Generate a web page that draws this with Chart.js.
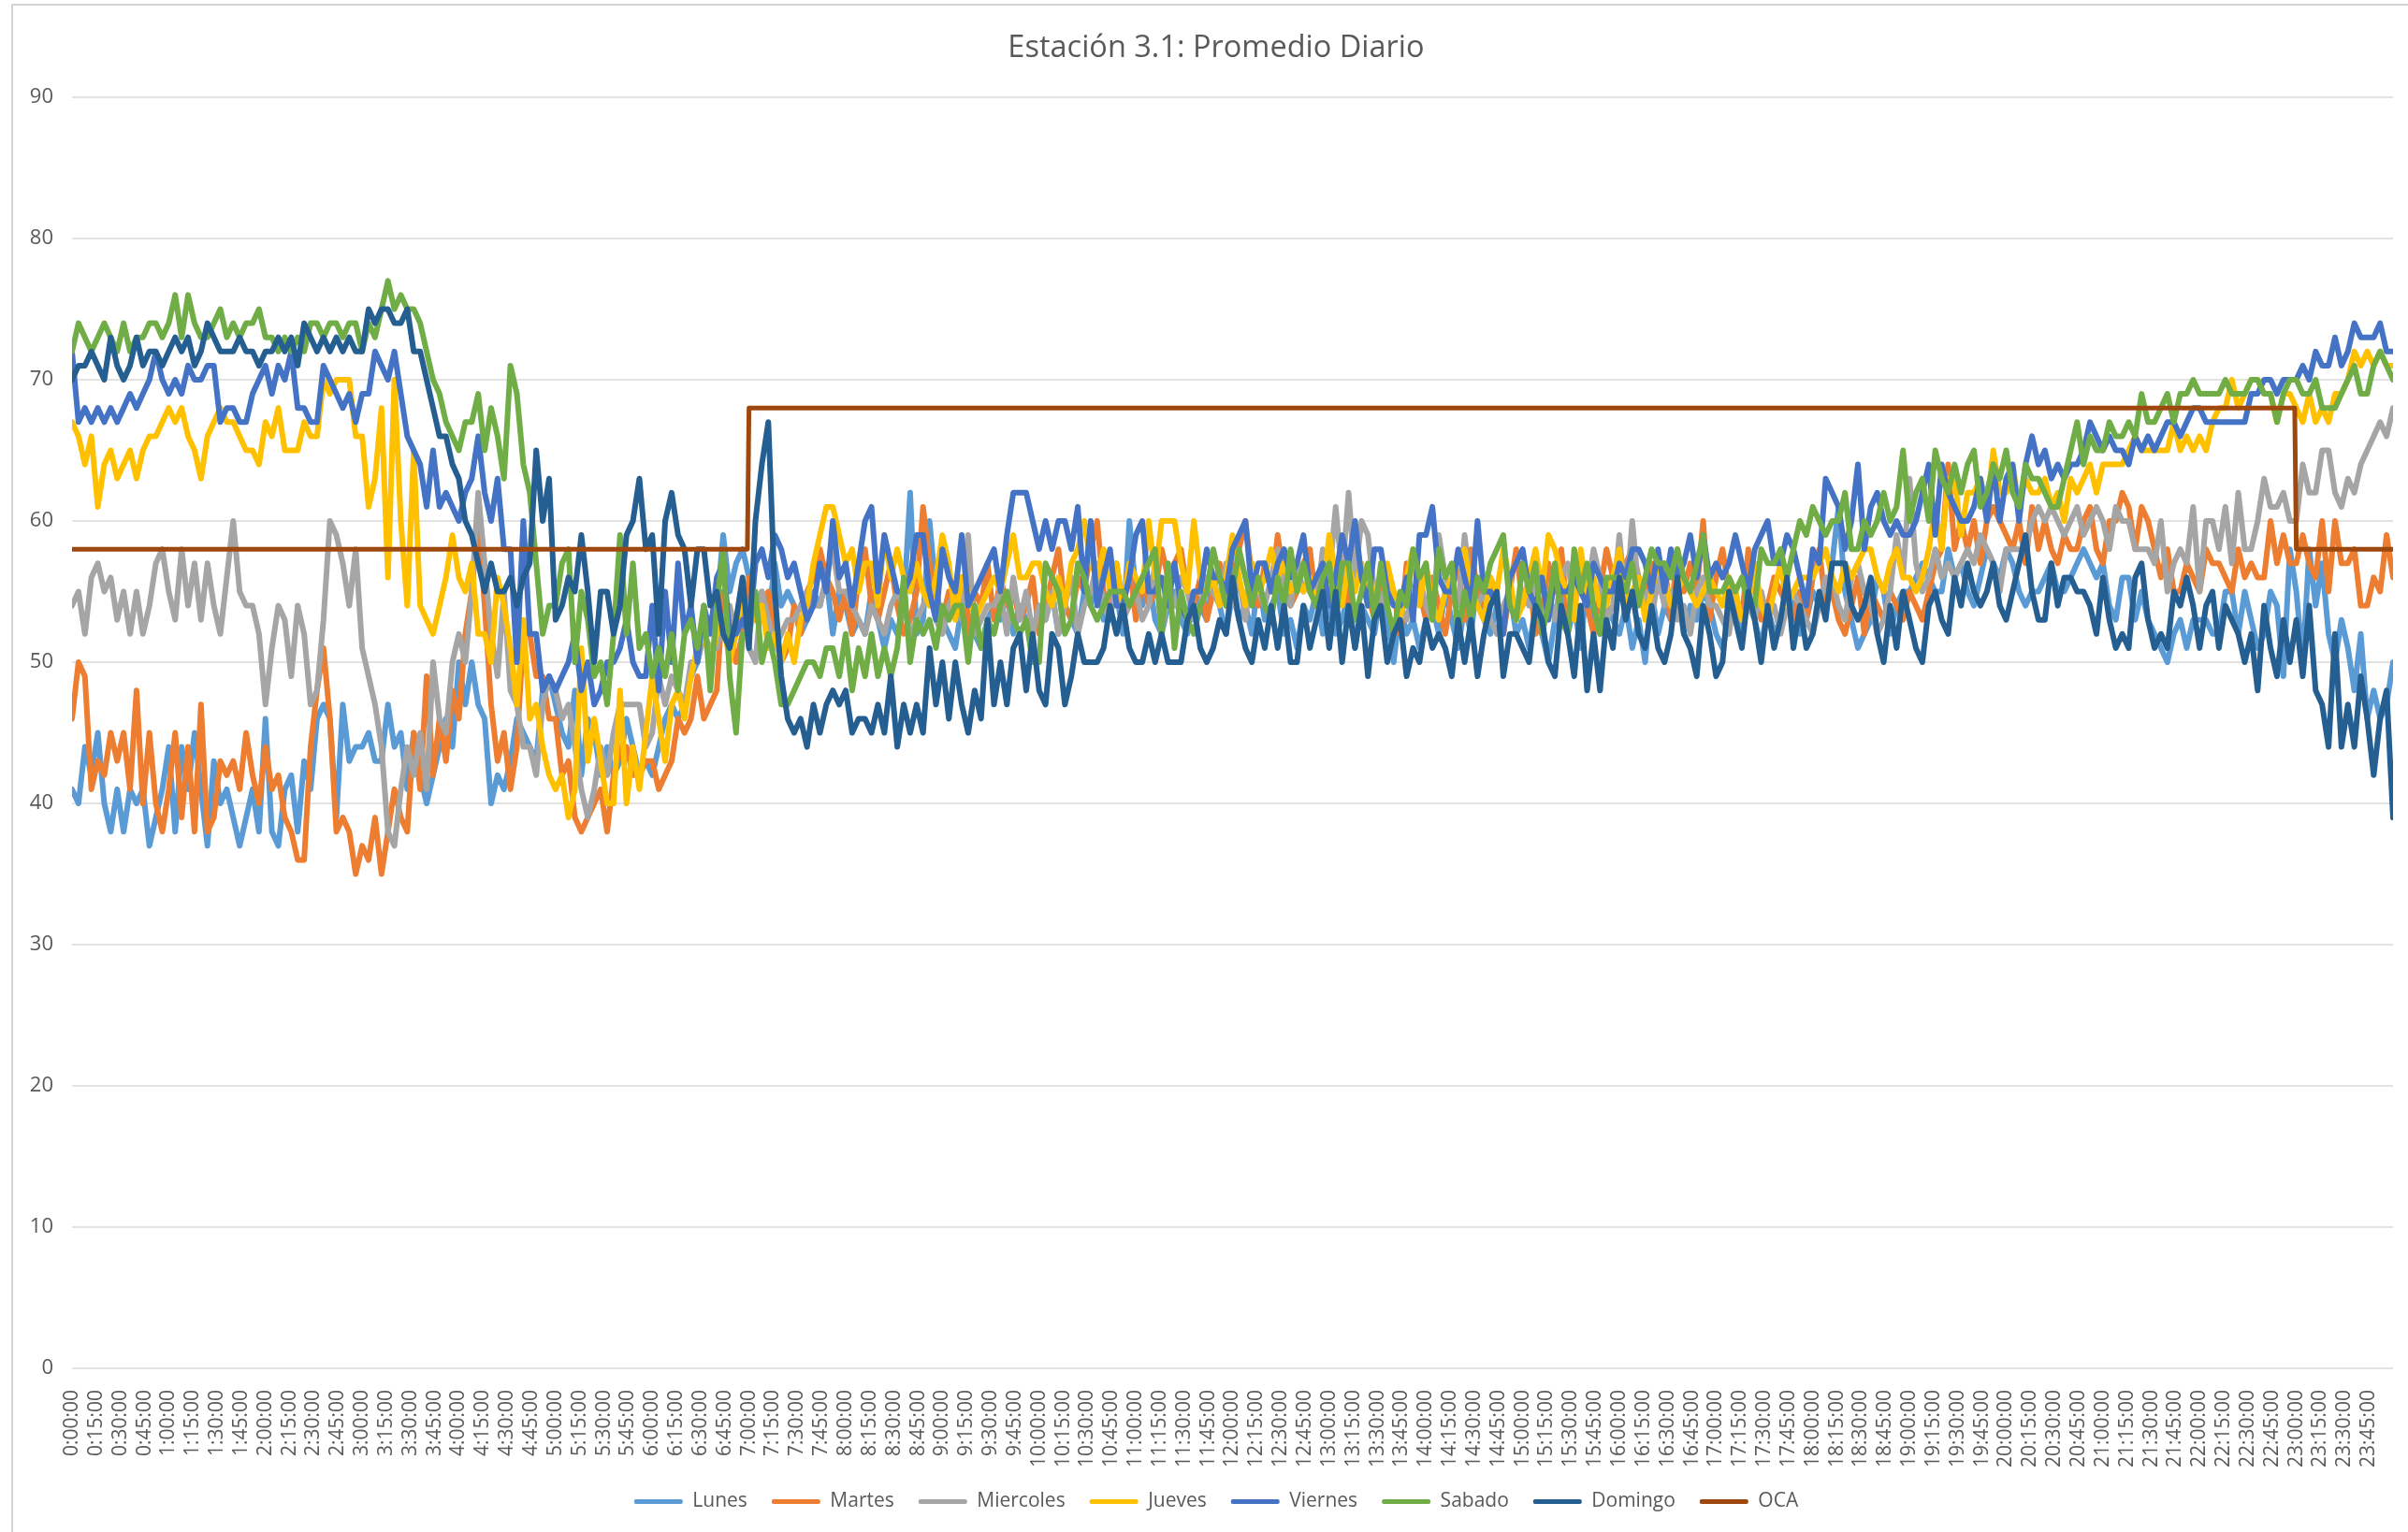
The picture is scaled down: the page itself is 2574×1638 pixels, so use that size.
<!DOCTYPE html>
<html>
<head>
<meta charset="utf-8">
<script src="https://cdn.jsdelivr.net/npm/chart.js@4/dist/chart.umd.min.js"></script>
<style>
html,body{margin:0;padding:0;background:#fff;width:2574px;height:1638px;overflow:hidden}
#frame{position:absolute;left:12px;top:4px;width:2562px;height:1634px;border-left:2px solid #d4d4d4;border-top:2px solid #d4d4d4;box-sizing:border-box;pointer-events:none}
canvas{position:absolute;left:0;top:0}
</style>
</head>
<body>
<canvas id="c" width="2574" height="1638"></canvas>
<div id="frame"></div>
<script>
const chartTitle = 'Estación 3.1: Promedio Diario';
const sampleMinutes = 4;
const yTicksMax = 90;

const lunes = [
41,40,44,42,45,40,38,41,38,41,40,41,37,39,41,
44,38,44,41,45,41,37,43,40,41,39,37,39,41,38,
46,38,37,41,42,38,43,41,46,47,46,39,47,43,44,
44,45,43,43,47,44,45,41,45,42,40,42,44,46,44,
50,47,50,47,46,40,42,41,43,46,45,44,43,48,49,
47,45,44,48,42,46,45,42,44,42,43,46,44,42,43,
42,44,46,47,46,47,49,50,52,53,54,59,55,57,58,
56,54,55,53,57,54,55,54,52,53,55,54,56,52,55,
54,52,53,52,55,53,51,53,52,54,62,52,53,60,55,
53,52,51,54,55,52,51,53,54,53,55,52,54,53,52,
54,53,55,52,54,53,52,55,54,56,53,54,55,52,60,
55,54,56,53,52,54,55,53,52,55,54,53,56,54,52,
55,53,54,52,56,53,54,55,52,53,51,54,53,55,52,
54,52,53,55,51,54,53,52,55,53,50,54,52,53,51,
53,54,52,55,53,51,54,52,56,53,52,54,53,55,52,
53,51,54,52,50,53,55,52,54,51,56,53,52,54,53,
52,54,51,53,50,55,52,54,53,55,52,54,53,55,54,
52,51,53,54,52,55,53,51,54,52,53,55,54,52,53,
55,54,54,57,61,55,53,51,52,53,56,55,52,54,55,
55,56,57,56,55,55,58,56,57,55,54,56,58,57,56,
58,57,55,54,55,55,56,57,55,55,56,57,58,57,56,
57,54,53,56,56,53,55,53,52,51,50,52,53,51,53,
53,53,52,52,55,55,52,55,53,51,52,55,54,49,58,
55,50,58,54,57,52,50,53,51,48,52,46,48,46,47,50];

const martes = [
46,50,49,41,43,42,45,43,45,41,48,40,45,40,38,
41,45,39,44,38,47,38,39,43,42,43,41,45,42,40,
44,41,42,39,38,36,36,44,48,51,46,38,39,38,35,
37,36,39,35,38,41,39,38,45,41,49,42,46,43,48,
46,52,55,60,54,47,43,45,41,44,52,52,49,49,46,
46,42,43,39,38,39,40,41,38,42,44,44,42,42,43,
43,41,42,43,46,45,46,49,46,47,48,55,52,50,52,
56,53,54,55,52,50,51,54,52,55,56,58,56,55,53,
55,52,56,58,54,53,55,57,54,52,53,55,61,57,55,
53,55,54,56,52,55,54,57,53,56,54,55,53,54,56,
52,54,56,58,54,53,56,55,58,60,55,53,57,54,57,
53,56,54,55,58,56,57,58,55,54,56,53,55,57,54,
56,58,60,56,54,57,55,59,56,54,55,57,58,54,56,
56,55,57,54,58,56,55,53,56,54,55,52,57,54,55,
53,56,54,52,55,57,53,58,55,54,56,54,52,55,58,
54,56,52,53,57,55,58,53,55,57,54,52,55,58,56,
55,57,58,56,54,57,55,57,53,58,55,57,55,60,53,
56,58,55,54,53,58,55,53,54,56,55,54,53,55,53,
56,58,54,55,53,52,54,56,52,55,54,53,55,54,53,
55,54,53,55,57,58,64,58,60,58,60,57,60,61,60,
59,58,60,57,61,58,60,58,57,59,58,58,60,61,58,
57,60,60,62,61,58,61,60,58,56,58,55,55,57,56,
55,58,57,57,56,55,58,56,57,56,56,60,57,59,57,
57,59,57,56,60,55,60,57,57,58,54,54,56,55,59,56];

const miercoles = [
54,55,52,56,57,55,56,53,55,52,55,52,54,57,58,
55,53,58,54,57,53,57,54,52,56,60,55,54,54,52,
47,51,54,53,49,54,52,47,48,53,60,59,57,54,58,
51,49,47,44,38,37,41,44,42,45,41,50,46,45,50,
52,50,55,62,57,52,49,55,48,47,44,44,42,47,49,
48,46,47,44,41,39,41,44,42,45,47,47,47,47,44,
45,49,47,49,48,47,50,50,52,51,51,53,54,52,54,
51,50,55,53,51,52,53,53,54,55,54,54,56,58,55,
55,54,53,52,54,53,52,54,55,54,52,53,54,55,53,
52,54,55,53,59,52,53,54,54,55,52,56,53,55,52,
54,53,55,52,54,56,52,54,55,57,54,53,56,53,54,
55,53,54,57,52,55,54,56,55,53,54,56,55,54,57,
54,56,53,57,55,54,56,58,55,54,57,55,56,54,58,
56,61,56,62,56,60,59,55,54,56,55,54,53,55,56,
54,53,59,56,55,54,59,55,54,55,53,52,54,55,53,
55,54,56,52,55,53,56,57,54,56,55,58,56,53,54,
59,54,60,55,55,53,56,54,55,53,54,52,55,56,54,
54,53,52,55,53,54,53,55,53,54,52,54,55,54,53,
52,54,56,56,54,53,56,57,55,54,52,53,55,59,56,
63,57,55,56,58,56,57,56,57,58,57,59,58,57,55,
58,58,58,58,60,61,60,61,60,59,60,61,59,60,61,
60,58,61,60,60,58,58,58,57,60,55,57,58,57,61,
55,60,60,58,61,57,62,58,58,60,63,61,61,62,60,
60,64,62,62,65,65,62,61,63,62,64,65,66,67,66,68];

const jueves = [
67,66,64,66,61,64,65,63,64,65,63,65,66,66,67,
68,67,68,66,65,63,66,67,68,67,67,66,65,65,64,
67,66,68,65,65,65,67,66,66,70,69,70,70,70,66,
66,61,63,68,56,70,60,54,65,54,53,52,54,56,59,
56,55,57,52,52,50,56,54,51,47,53,46,47,44,42,
41,42,39,41,51,43,46,43,40,40,48,40,44,41,45,
49,46,43,47,48,46,49,51,52,50,52,53,50,52,55,
52,54,54,51,52,50,52,50,53,54,57,59,61,61,59,
57,58,55,57,57,54,59,56,58,56,55,57,55,54,56,
59,57,53,56,55,53,54,55,56,55,57,59,56,56,57,
57,55,54,56,54,57,58,60,57,56,58,55,57,54,57,
56,55,60,56,60,60,60,57,55,60,56,55,56,54,56,
59,56,54,57,55,56,58,56,57,55,56,55,56,54,55,
59,56,54,57,55,57,54,55,56,57,55,53,56,58,54,
57,54,53,55,56,57,58,55,54,53,56,55,58,56,53,
54,56,58,55,59,58,56,55,53,58,55,56,54,54,56,
58,54,55,56,53,55,57,56,54,55,56,55,54,55,56,
55,54,56,55,53,54,57,54,53,55,57,54,55,56,56,
56,57,58,56,55,57,56,57,58,58,56,55,57,58,56,
56,55,56,58,61,58,63,63,59,62,62,63,61,65,62,
62,64,61,63,62,62,63,61,62,60,63,62,63,64,62,
64,64,64,64,65,66,65,65,65,65,65,67,65,66,65,
66,65,67,68,68,70,68,69,70,70,69,69,67,69,69,
68,67,69,67,68,67,69,69,70,72,71,72,71,72,71,71];

const viernes = [
72,67,68,67,68,67,68,67,68,69,68,69,70,72,70,
69,70,69,71,70,70,71,71,67,68,68,67,67,69,70,
71,69,71,70,72,68,68,67,67,71,70,69,68,69,67,
69,69,72,71,70,72,69,66,65,64,61,65,61,62,61,
60,62,63,66,62,60,63,58,58,50,60,52,52,48,49,
48,49,50,52,48,50,47,48,50,50,51,53,50,49,49,
54,48,55,50,57,52,54,50,54,52,56,57,52,52,53,
52,57,58,56,59,58,56,57,55,53,54,57,55,60,56,
57,54,57,60,61,55,59,57,55,55,56,59,59,55,53,
58,56,55,59,54,55,56,57,58,55,59,62,62,62,60,
58,60,58,60,60,58,61,55,60,54,56,58,54,54,56,
59,60,55,55,56,54,57,54,53,55,55,58,56,56,55,
58,59,60,55,57,57,55,57,58,56,57,59,55,56,57,
54,56,59,57,60,56,54,58,58,55,54,54,56,53,59,
59,61,56,55,55,58,56,54,60,55,55,54,52,56,57,
58,55,54,56,53,56,55,55,56,55,54,57,56,55,55,
57,56,58,58,57,55,58,55,58,56,57,59,56,59,56,
57,56,57,59,57,55,58,59,60,57,57,59,58,56,54,
58,57,63,62,61,58,60,64,58,61,62,60,59,60,59,
59,60,62,64,59,64,62,61,60,60,61,63,60,64,60,
63,64,60,64,66,64,65,63,64,63,64,64,65,67,66,
65,66,65,65,64,66,65,66,65,66,67,67,66,67,68,
68,67,67,67,67,67,67,67,69,69,70,70,69,70,70,
70,71,70,72,71,71,73,71,72,74,73,73,73,74,72,72];

const sabado = [
72,74,73,72,73,74,73,72,74,72,73,73,74,74,73,
74,76,73,76,74,73,73,74,75,73,74,73,74,74,75,
73,73,72,73,72,73,72,74,74,73,74,74,73,74,74,
72,74,73,75,77,75,76,75,75,74,72,70,69,67,66,
65,67,67,69,65,68,66,63,71,69,64,62,57,52,54,
54,57,58,50,55,53,49,50,47,52,59,52,57,51,52,
49,51,49,52,48,52,53,51,54,48,54,58,49,45,52,
52,55,50,52,50,47,47,48,49,50,50,49,51,51,49,
52,48,51,49,52,49,51,49,51,56,50,53,52,53,51,
54,53,54,54,50,54,51,53,52,54,55,53,52,53,50,
50,57,56,55,52,53,57,56,54,53,54,55,55,55,54,
55,56,57,58,52,57,51,55,53,52,54,55,58,56,54,
55,58,56,54,56,54,53,56,54,58,55,57,55,54,56,
57,53,57,57,53,55,57,53,57,54,52,55,54,58,56,
57,53,58,56,57,52,55,53,56,55,57,58,59,54,53,
57,55,57,52,54,57,53,52,58,55,57,54,52,56,56,
56,55,57,54,56,58,57,57,56,58,56,55,57,59,55,
55,55,56,55,56,54,54,58,57,57,58,56,58,60,59,
61,60,59,60,60,62,58,58,60,59,60,62,60,61,65,
60,62,63,60,65,63,62,64,62,64,65,61,62,64,63,
65,62,61,64,63,63,62,61,61,63,65,67,64,66,65,
65,67,66,66,67,66,69,67,67,68,69,67,69,69,70,
69,69,69,69,70,69,69,69,70,70,69,69,67,69,70,
70,69,69,70,68,68,68,69,70,71,69,69,71,72,71,70];

const domingo = [
70,71,71,72,71,70,73,71,70,71,73,71,72,72,71,
72,73,72,73,71,72,74,73,72,72,72,73,72,72,71,
72,72,73,72,73,71,74,73,72,73,72,73,72,73,72,
72,75,74,75,75,74,74,75,72,72,70,68,66,66,64,
63,60,59,57,55,57,55,55,56,54,56,57,65,60,63,
53,54,56,55,59,55,50,55,55,52,54,59,60,63,58,
59,52,60,62,59,58,54,58,58,54,55,52,51,53,56,
51,60,64,67,55,49,46,45,46,44,47,45,47,48,47,
48,45,46,46,45,47,45,49,44,47,45,47,45,51,47,
50,46,50,47,45,48,46,53,47,50,47,51,52,48,52,
48,47,52,51,47,49,52,50,50,50,51,54,52,54,51,
50,50,52,50,52,50,50,50,53,54,51,50,51,53,52,
56,53,51,50,53,51,54,51,54,50,50,54,51,53,55,
51,55,50,54,51,54,49,53,54,50,52,53,49,51,50,
53,51,52,51,49,53,50,53,49,52,54,55,49,52,52,
51,50,54,53,50,49,54,52,49,54,48,52,48,53,51,
56,53,55,52,51,54,51,50,52,56,52,51,49,54,52,
49,50,55,53,51,55,53,50,54,51,53,56,51,54,51,
52,55,53,57,57,57,54,53,54,56,52,50,54,51,55,
53,51,50,54,55,53,52,56,54,57,55,54,55,57,54,
53,55,57,59,55,53,53,57,54,56,56,55,55,54,52,
56,53,51,52,51,56,57,53,51,52,51,55,54,56,54,
51,54,55,51,54,53,52,50,52,48,54,51,49,53,50,
53,49,54,48,47,44,52,44,47,44,49,46,42,46,48,39];

const ocaMinutes = [0, 419, 420, 1379, 1380, 1440];
const ocaValues = [58, 58, 68, 68, 58, 58];

const seriesNames = ['Lunes','Martes','Miercoles','Jueves','Viernes','Sabado','Domingo','OCA'];
const seriesColors = ['#5B9BD5','#ED7D31','#A5A5A5','#FFC000','#4472C4','#70AD47','#255E91','#9E480E'];
const seriesValues = [lunes, martes, miercoles, jueves, viernes, sabado, domingo];

function toPoints(values){ return values.map((v,i)=>({x:i*sampleMinutes,y:v})); }
function clock(m){
  const h=Math.floor(m/60), mm=m%60;
  return h+':'+String(mm).padStart(2,'0')+':00';
}
function keepLabelsUnclipped(scale){ scale._computeLabelArea = () => undefined; }
const textColor='#595959';
const fontName='"Open Sans", sans-serif';

const datasets = seriesNames.map((name,i)=>({
  label:name,
  data: i<7 ? toPoints(seriesValues[i]) : ocaMinutes.map((m,k)=>({x:m,y:ocaValues[k]})),
  borderColor:seriesColors[i],
  backgroundColor:seriesColors[i],
  borderWidth:i<7?6:5,
  pointRadius:0,
  tension:0,
  borderJoinStyle:'round',
  borderCapStyle:'round',
  order:seriesNames.length-i
}));

new Chart(document.getElementById('c'),{
  type:'line',
  data:{datasets},
  options:{
    responsive:false,
    animation:false,
    layout:{padding:{left:42,right:16,top:0,bottom:12}},
    plugins:{
      tooltip:{enabled:false},
      title:{display:true,text:chartTitle,color:textColor,
        font:{family:fontName,size:32.5,weight:'normal'},
        padding:{top:32,bottom:33}},
      legend:{position:'bottom',
        labels:{color:textColor,font:{family:fontName,size:21},
          boxWidth:52,boxHeight:5,padding:26,useBorderRadius:true,borderRadius:2,
          sort:(a,b)=>a.datasetIndex-b.datasetIndex,
          generateLabels(chart){
            return Chart.defaults.plugins.legend.labels.generateLabels(chart)
              .map(l=>Object.assign(l,{lineWidth:0}));
          }}}
    },
    scales:{
      x:{type:'linear',min:0,max:1440,
        grid:{display:false},border:{display:false},
        afterFit(s){s.height=106;s.paddingRight=0;s.paddingLeft=0;keepLabelsUnclipped(s);},
        ticks:{stepSize:15,autoSkip:false,minRotation:90,maxRotation:90,
          padding:15,color:textColor,font:{family:fontName,size:21},
          callback:v=>v<1440?clock(v):''}},
      y:{min:0,max:yTicksMax,
        afterFit(s){s.width=35;keepLabelsUnclipped(s);},
        border:{display:false},
        grid:{color:'#e2e2e2',lineWidth:2,drawTicks:false},
        ticks:{stepSize:10,padding:20,color:textColor,font:{family:fontName,size:22}}}
    }
  }
});
</script>
</body>
</html>
